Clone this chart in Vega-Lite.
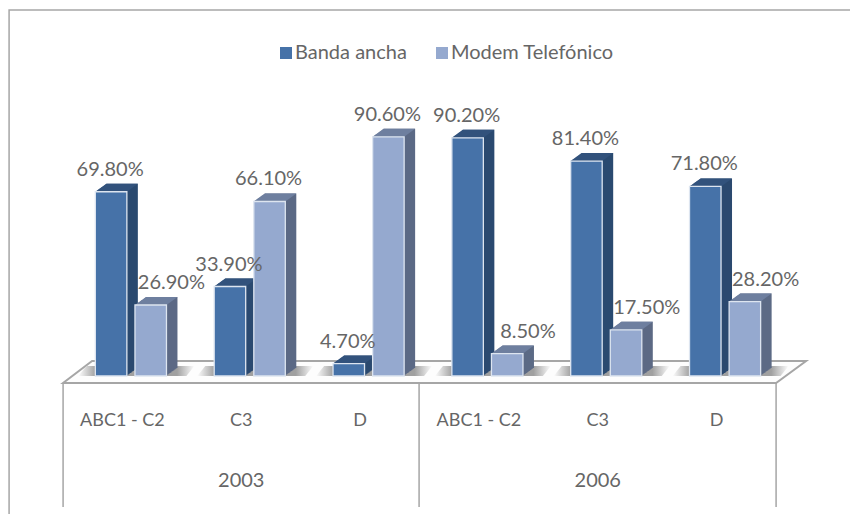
{
"$schema":"https://vega.github.io/schema/vega-lite/v6.json",
"width":713,"height":264,
"autosize":"none",
"padding":{"left":63,"top":112,"right":74,"bottom":138},
"background":"white",
"view":{"stroke":null},
"config":{"font":"Lato"},
"datasets":{
"bars":[
{"k":"2003|ABC1 - C2|B","serie":"Banda ancha","v":0.698},
{"k":"2003|ABC1 - C2|M","serie":"Modem Telefónico","v":0.269},
{"k":"2003|C3|B","serie":"Banda ancha","v":0.339},
{"k":"2003|C3|M","serie":"Modem Telefónico","v":0.661},
{"k":"2003|D|B","serie":"Banda ancha","v":0.047},
{"k":"2003|D|M","serie":"Modem Telefónico","v":0.906},
{"k":"2006|ABC1 - C2|B","serie":"Banda ancha","v":0.902},
{"k":"2006|ABC1 - C2|M","serie":"Modem Telefónico","v":0.085},
{"k":"2006|C3|B","serie":"Banda ancha","v":0.814},
{"k":"2006|C3|M","serie":"Modem Telefónico","v":0.175},
{"k":"2006|D|B","serie":"Banda ancha","v":0.718},
{"k":"2006|D|M","serie":"Modem Telefónico","v":0.282}
],
"groups":[{"k":"2003|ABC1 - C2|M"},{"k":"2003|C3|M"},{"k":"2003|D|M"},{"k":"2006|ABC1 - C2|M"},{"k":"2006|C3|M"},{"k":"2006|D|M"}],
"years":[{"k":"2003|C3|M","year":"2003"},{"k":"2006|C3|M","year":"2006"}],
"anchor":[{"k":"2003|D|M"}]
},
"data":{"name":"bars"},
"layer":[
{"data":{"name":"anchor"},
"mark":{"type":"point","filled":true,"size":4,"fill":"#FDFDFD","stroke":"#A6A6A6","strokeWidth":2,"opacity":1,"shape":"M-297,7L416,7L446,-15L-268,-15Z"},
"encoding":{"x":{"field":"k","type":"nominal","scale":{"type":"band","paddingInner":0,"paddingOuter":0,"domain":["2003|ABC1 - C2|B","2003|ABC1 - C2|M","2003|ABC1 - C2|s","2003|C3|B","2003|C3|M","2003|C3|s","2003|D|B","2003|D|M","2003|D|s","2006|ABC1 - C2|B","2006|ABC1 - C2|M","2006|ABC1 - C2|s","2006|C3|B","2006|C3|M","2006|C3|s","2006|D|B","2006|D|M","2006|D|s"]},"axis":{"title":null,"domain":false,"ticks":false,"labelAngle":0,"labelPadding":35,"labelFontSize":18,"labelColor":"#666666","values":["2003|ABC1 - C2|M","2003|C3|M","2003|D|M","2006|ABC1 - C2|M","2006|C3|M","2006|D|M"],"labelExpr":"split(datum.label,'|')[1]"}},"y":{"datum":0,"type":"quantitative","scale":{"domain":[0,1]},"axis":null}}},
{"data":{"name":"anchor"},
"mark":{"type":"point","filled":false,"size":4,"stroke":"#A6A6A6","strokeWidth":1.5,"opacity":1,"shape":"M-297,7V131M59,7V131M416,7V131"},
"encoding":{"x":{"field":"k","type":"nominal"},"y":{"datum":0,"type":"quantitative"}}},
{"data":{"name":"anchor"},
"mark":{"type":"point","filled":false,"size":4,"stroke":"#A6A6A6","strokeWidth":1.5,"opacity":1,"shape":"M-351,138V-366H490"},
"encoding":{"x":{"field":"k","type":"nominal"},"y":{"datum":0,"type":"quantitative"}}},
{"data":{"name":"groups"},
"mark":{"type":"point","filled":true,"size":4,"opacity":1,"strokeWidth":0,"shape":"M-44,0L64,0L72,-10L-36,-10Z",
"fill":{"gradient":"linear","x1":0,"y1":0,"x2":1,"y2":0,"stops":[{"offset":0,"color":"#FDFDFD"},{"offset":0.15,"color":"#A0A0A0"},{"offset":0.85,"color":"#A0A0A0"},{"offset":1,"color":"#FDFDFD"}]}},
"encoding":{"x":{"field":"k","type":"nominal"},"y":{"datum":0,"type":"quantitative"}}},
{"encoding":{
"x":{"field":"k","type":"nominal"},
"y":{"field":"v","type":"quantitative"}},
"layer":[
{"mark":{"type":"bar","width":31.5,"xOffset":39.3,"x2Offset":39.3,"yOffset":-8,"y2Offset":-8},"encoding":{"fill":{"condition":{"test":"datum.serie=='Banda ancha'","value":"#2B4A70"},"value":"#5C6A85"}}},
{"mark":{"type":"bar","width":31.5,"xOffset":38.3,"x2Offset":38.3,"yOffset":-7.3,"y2Offset":-7.3},"encoding":{"fill":{"condition":{"test":"datum.serie=='Banda ancha'","value":"#2B4A70"},"value":"#5C6A85"}}},
{"mark":{"type":"bar","width":31.5,"xOffset":37.3,"x2Offset":37.3,"yOffset":-6.5,"y2Offset":-6.5},"encoding":{"fill":{"condition":{"test":"datum.serie=='Banda ancha'","value":"#2B4A70"},"value":"#5C6A85"}}},
{"mark":{"type":"bar","width":31.5,"xOffset":36.3,"x2Offset":36.3,"yOffset":-5.8,"y2Offset":-5.8},"encoding":{"fill":{"condition":{"test":"datum.serie=='Banda ancha'","value":"#2B4A70"},"value":"#5C6A85"}}},
{"mark":{"type":"bar","width":31.5,"xOffset":35.3,"x2Offset":35.3,"yOffset":-5.1,"y2Offset":-5.1},"encoding":{"fill":{"condition":{"test":"datum.serie=='Banda ancha'","value":"#2B4A70"},"value":"#5C6A85"}}},
{"mark":{"type":"bar","width":31.5,"xOffset":34.3,"x2Offset":34.3,"yOffset":-4.4,"y2Offset":-4.4},"encoding":{"fill":{"condition":{"test":"datum.serie=='Banda ancha'","value":"#2B4A70"},"value":"#5C6A85"}}},
{"mark":{"type":"bar","width":31.5,"xOffset":33.3,"x2Offset":33.3,"yOffset":-3.6,"y2Offset":-3.6},"encoding":{"fill":{"condition":{"test":"datum.serie=='Banda ancha'","value":"#2B4A70"},"value":"#5C6A85"}}},
{"mark":{"type":"bar","width":31.5,"xOffset":32.3,"x2Offset":32.3,"yOffset":-2.9,"y2Offset":-2.9},"encoding":{"fill":{"condition":{"test":"datum.serie=='Banda ancha'","value":"#2B4A70"},"value":"#5C6A85"}}},
{"mark":{"type":"bar","width":31.5,"xOffset":31.3,"x2Offset":31.3,"yOffset":-2.2,"y2Offset":-2.2},"encoding":{"fill":{"condition":{"test":"datum.serie=='Banda ancha'","value":"#2B4A70"},"value":"#5C6A85"}}},
{"mark":{"type":"bar","width":31.5,"xOffset":30.3,"x2Offset":30.3,"yOffset":-1.5,"y2Offset":-1.5},"encoding":{"fill":{"condition":{"test":"datum.serie=='Banda ancha'","value":"#2B4A70"},"value":"#5C6A85"}}},
{"mark":{"type":"bar","width":31.5,"xOffset":29.3,"x2Offset":29.3,"yOffset":-0.7,"y2Offset":-0.7},"encoding":{"fill":{"condition":{"test":"datum.serie=='Banda ancha'","value":"#2B4A70"},"value":"#5C6A85"}}},
{"mark":{"type":"point","filled":true,"size":4,"opacity":1,"strokeWidth":0,"xOffset":28.3,"shape":"M-15.8,0L15.8,0L26.8,-8L-4.8,-8Z"},"encoding":{"fill":{"condition":{"test":"datum.serie=='Banda ancha'","value":"#32527C"},"value":"#6E7F9F"}}},
{"mark":{"type":"bar","width":31.5,"xOffset":28.3,"x2Offset":28.3,"stroke":"#DDE5F0","strokeWidth":1.3},
"encoding":{"fill":{"field":"serie","type":"nominal","scale":{"domain":["Banda ancha","Modem Telefónico"],"range":["#4672A8","#95A9CF"]},
"legend":{"title":null,"orient":"none","direction":"horizontal","legendX":213,"legendY":-69,"symbolType":"square","symbolSize":144,"symbolStrokeWidth":0,"labelFontSize":20,"labelColor":"#666666","labelLimit":300,"columnPadding":25,"labelOffset":-1}}}},
{"transform":[{"filter":"!(datum.serie=='Modem Telefónico' && datum.v<0.3)"}],
"mark":{"type":"text","xOffset":27.3,"dy":-22,"baseline":"middle","fontSize":20,"color":"#666666"},"encoding":{"text":{"field":"v","type":"quantitative","format":".2%"}}},
{"transform":[{"filter":"datum.serie=='Modem Telefónico' && datum.v<0.3"}],
"mark":{"type":"text","xOffset":49,"dy":-22,"baseline":"middle","fontSize":20,"color":"#666666"},"encoding":{"text":{"field":"v","type":"quantitative","format":".2%"}}}
]},
{"data":{"name":"years"},
"mark":{"type":"text","dy":105,"baseline":"middle","fontSize":20,"color":"#666666"},
"encoding":{"x":{"field":"k","type":"nominal"},"y":{"datum":0,"type":"quantitative"},"text":{"field":"year","type":"nominal"}}}
]
}
